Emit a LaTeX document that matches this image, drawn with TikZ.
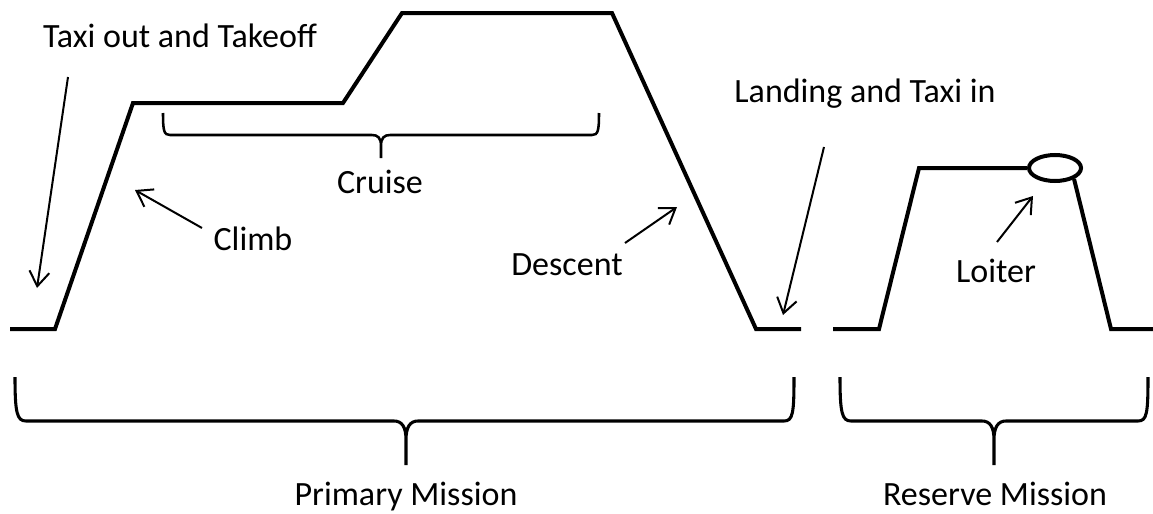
\documentclass[tikz,border=0pt]{standalone}
\usepackage{fontspec}
\setmainfont{Carlito}
\usetikzlibrary{arrows.meta,shapes.geometric}

\begin{document}
\begin{tikzpicture}[x=0.75pt,y=-0.75pt,
    profile/.style={line width=3pt},
    bracket/.style={line width=2.3pt},
    pointer/.style={line width=1.5pt,-{Straight Barb[length=11pt,width=15pt]}},
    label/.style={font=\fontsize{25.5}{30}\selectfont,anchor=base,inner sep=0pt}]
\useasboundingbox (0,0) rectangle (1153,514);

% Primary mission profile
\coordinate (p1) at (10,329);
\coordinate (p2) at (55,329);
\coordinate (p3) at (133,103);
\coordinate (p4) at (343,103);
\coordinate (p5) at (402,13);
\coordinate (p6) at (612,13);
\coordinate (p7) at (756,329);
\coordinate (p8) at (801,329);
\draw[profile] (p1) -- (p2) -- (p3) -- (p4) -- (p5) -- (p6) -- (p7) -- (p8);

% Reserve mission profile
\node[draw,ellipse,profile,inner sep=0pt,minimum width=39pt,minimum height=19.5pt] (loop) at (1055,168) {};
\coordinate (r1) at (833,329);
\coordinate (r2) at (879,329);
\coordinate (r3) at (919,168);
\coordinate (r4) at (1111,329);
\coordinate (r5) at (1153,329);
\draw[profile] (r1) -- (r2) -- (r3) -- (loop.west);
\draw[profile] (loop.-30) -- (r4) -- (r5);

% Labels
\node[label] (taxiout) at (180,47) {Taxi out and Takeoff};
\node[label] (climb) at (253,250) {Climb};
\node[label] (cruise) at (380,193) {Cruise};
\node[label] (descent) at (567,275) {Descent};
\node[label] (landing) at (865,102) {Landing and Taxi in};
\node[label] (loiter) at (996,282) {Loiter};
\node[label] (primary) at (406,505) {Primary Mission};
\node[label] (reserve) at (995,505) {Reserve Mission};

% Pointers
\coordinate (a1) at (68,77);   \coordinate (b1) at (37,288);
\coordinate (a2) at (202,228); \coordinate (b2) at (135,190);
\coordinate (a3) at (625,243); \coordinate (b3) at (677,207);
\coordinate (a4) at (824,147); \coordinate (b4) at (783,315);
\coordinate (a5) at (997,242); \coordinate (b5) at (1033,196);
\draw[pointer] (a1) -- (b1);
\draw[pointer] (a2) -- (b2);
\draw[pointer] (a3) -- (b3);
\draw[pointer] (a4) -- (b4);
\draw[pointer] (a5) -- (b5);

% Braces
\draw[line width=1.9pt] (163,113) .. controls (163,131) and (164,135) .. (170,135) -- (372,135)
    .. controls (378,135) and (381,138) .. (381,146) -- (381,158)
    (381,146) .. controls (381,138) and (384,135) .. (390,135) -- (592,135)
    .. controls (598,135) and (599,131) .. (599,113);
\draw[bracket] (15,377) .. controls (15,413) and (17,421) .. (26,421) -- (394,421)
    .. controls (402,421) and (406,427) .. (406,440) -- (406,465)
    (406,440) .. controls (406,427) and (410,421) .. (418,421) -- (784,421)
    .. controls (793,421) and (794,413) .. (794,377);
\draw[bracket] (840,377) .. controls (840,413) and (842,421) .. (851,421) -- (982,421)
    .. controls (990,421) and (994,427) .. (994,440) -- (994,465)
    (994,440) .. controls (994,427) and (998,421) .. (1006,421) -- (1138,421)
    .. controls (1147,421) and (1148,413) .. (1148,377);
\end{tikzpicture}
\end{document}
